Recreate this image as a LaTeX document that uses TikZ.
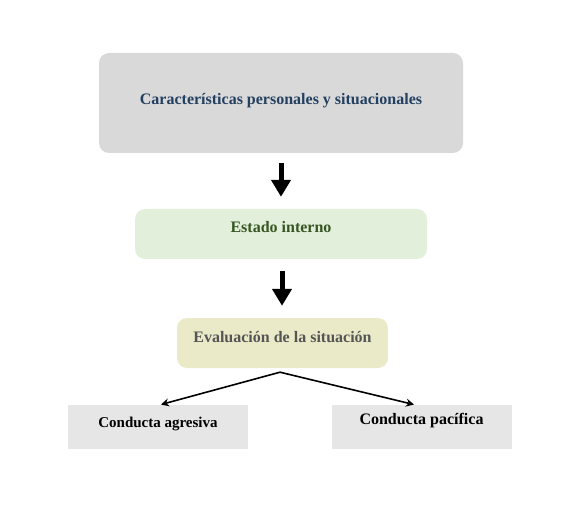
\documentclass[tikz,border=0pt]{standalone}
\usepackage{fontspec}
\setmainfont{Liberation Serif}
\usepackage{xcolor}
\usepackage{tikz}
\usetikzlibrary{arrows.meta,positioning}
\definecolor{topgray}{RGB}{217, 217, 217}
\definecolor{topblue}{RGB}{36, 64, 97}
\definecolor{stategreen}{RGB}{226, 239, 218}
\definecolor{darkgreen}{RGB}{55, 86, 35}
\definecolor{evalcream}{RGB}{235, 234, 200}
\definecolor{evaltext}{RGB}{85, 85, 85}
\definecolor{boxgray}{RGB}{230, 230, 230}

\begin{document}
\begin{tikzpicture}[
    x=1pt, y=-1pt,
    box/.style={rectangle, rounded corners=10pt, align=center, font=\fontsize{16}{18}\selectfont\bfseries, text height=12pt},
    outcome/.style={rectangle, fill=boxgray, minimum width=180pt, minimum height=44pt, align=center, font=\fontsize{16}{18}\selectfont\bfseries, text height=12pt},
    bigarrow/.style={-{Triangle[width=19pt,length=17pt]}, line width=5pt, black},
    thinarrow/.style={-{Stealth[width=8pt,length=8pt]}, line width=1.6pt, black}
]

\useasboundingbox (0,0) rectangle (564,510);

\node[box, fill=topgray, text=topblue, minimum width=364pt, minimum height=100pt, text depth=8pt] (traits) at (281,103) {Características personales y situacionales};

\node[box, fill=stategreen, text=darkgreen, minimum width=292pt, minimum height=50pt, text depth=14pt] (state) at (281,234) {Estado interno};

\node[box, fill=evalcream, text=evaltext, minimum width=211pt, minimum height=50pt, text depth=14pt] (eval) at (282.5,343) {Evaluación de la situación};

\node[outcome, text depth=12pt, font=\fontsize{15}{18}\selectfont\bfseries] (aggressive) at (158,427) {Conducta agresiva};

\node[outcome, text depth=18pt] (peaceful) at (421.5,427) {Conducta pacífica};

\coordinate (split) at ([xshift=-2.5pt, yshift=-4pt]eval.south);

% Arrows between stages
\draw[bigarrow, shorten <=10pt, shorten >=12pt] (traits.south -| 281,0) -- (state.north -| 281,0);
\draw[bigarrow, shorten <=12pt, shorten >=12pt] (state.south -| 282,0) -- (eval.north -| 282,0);
\draw[thinarrow, shorten >=1pt] (split) -- (aggressive.north -| 160,0);
\draw[thinarrow, shorten >=1pt] (split) -- (peaceful.north -| 415,0);

\end{tikzpicture}
\end{document}
